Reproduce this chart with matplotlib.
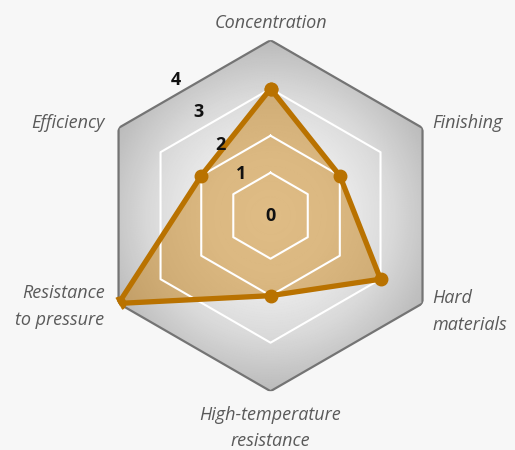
import numpy as np
import matplotlib
matplotlib.use("Agg")
import matplotlib.pyplot as plt
from matplotlib.colors import LinearSegmentedColormap

# chart data
categories = ["Concentration", "Finishing", "Hard\nmaterials",
              "High-temperature\nresistance", "Resistance\nto pressure", "Efficiency"]
values = [3, 2, 3, 2, 4, 2]
tick_values = [0, 1, 2, 3, 4]
tick_labels = ["0", "1", "2", "3", "4"]

# the rings in the original are not evenly spaced
ring_frac = np.array([0, 43, 80, 127, 175.5]) / 175.5


def fwd(r):
    return np.interp(r, tick_values, ring_frac)


def inv(s):
    return np.interp(s, ring_frac, tick_values)


plt.rcParams['font.family'] = ['Open Sans', 'DejaVu Sans']

fig = plt.figure(figsize=(5.15, 4.5), dpi=100, facecolor="#f7f7f7")
ax = fig.add_axes([0.1845, 0.1307, 0.6816, 0.78], projection="polar")
ax.set_theta_offset(np.pi / 2)
ax.set_theta_direction(-1)
ax.set_rscale("function", functions=(fwd, inv))
ax.set_ylim(0, 4)
ax.set_axis_off()

n = len(categories)
angles = np.arange(n) * 2 * np.pi / n
closed = np.append(angles, angles[0])

# outer hexagon + radial grey gradient clipped to it
outer = ax.fill(angles, [tick_values[-1]] * n, facecolor="none",
                edgecolor="#747474", lw=1.6, zorder=3)[0]
th = np.linspace(0, 2 * np.pi, 361)
rr = np.linspace(0, tick_values[-1], 120)
TH, RR = np.meshgrid(th, rr)
cmap = LinearSegmentedColormap.from_list(
    "bg", [(0, "#f8f8f8"), (0.35, "#f0f0f0"), (0.7, "#d9d9d9"), (1, "#bbbbbb")])
mesh = ax.pcolormesh(TH, RR, fwd(RR), cmap=cmap, vmin=0, vmax=1,
                     shading="gouraud", zorder=1)
mesh.set_clip_path(outer)

# data polygon fill
vals = values + values[:1]
ax.fill(closed, vals, color="#c88214", alpha=0.5, lw=0, zorder=2)

# white inner rings, on top of the fill
for v in tick_values[1:-1]:
    ax.plot(closed, [v] * (n + 1), color="white", lw=1.5, zorder=3)

ax.plot(closed, vals, color="#b97200", lw=3.8, marker="o", ms=9,
        solid_joinstyle="round", zorder=5)

# scale labels along a line up-left of centre
label_theta = np.deg2rad(-35)
label_r = [0, 1.22, 2.14, 2.98, 3.8]
for lab, r in zip(tick_labels, label_r):
    ax.text(label_theta, r, lab, ha="center", va="center", fontsize=13,
            fontweight="bold", color="#111111", zorder=6)

# category labels
offsets = [(0, 17, "center"), (10, 5, "left"), (10, -8, "left"),
           (0, -37, "center"), (-14, -3, "right"), (-14, 5, "right")]
for a, name, (dx, dy, ha) in zip(angles, categories, offsets):
    ax.annotate(name, xy=(a, tick_values[-1]), xytext=(dx, dy),
                textcoords="offset pixels", ha=ha, va="center",
                fontsize=13, style="italic", color="#5a5a5a",
                linespacing=1.6, annotation_clip=False)

fig.savefig("out.png", dpi=100, facecolor=fig.get_facecolor())
